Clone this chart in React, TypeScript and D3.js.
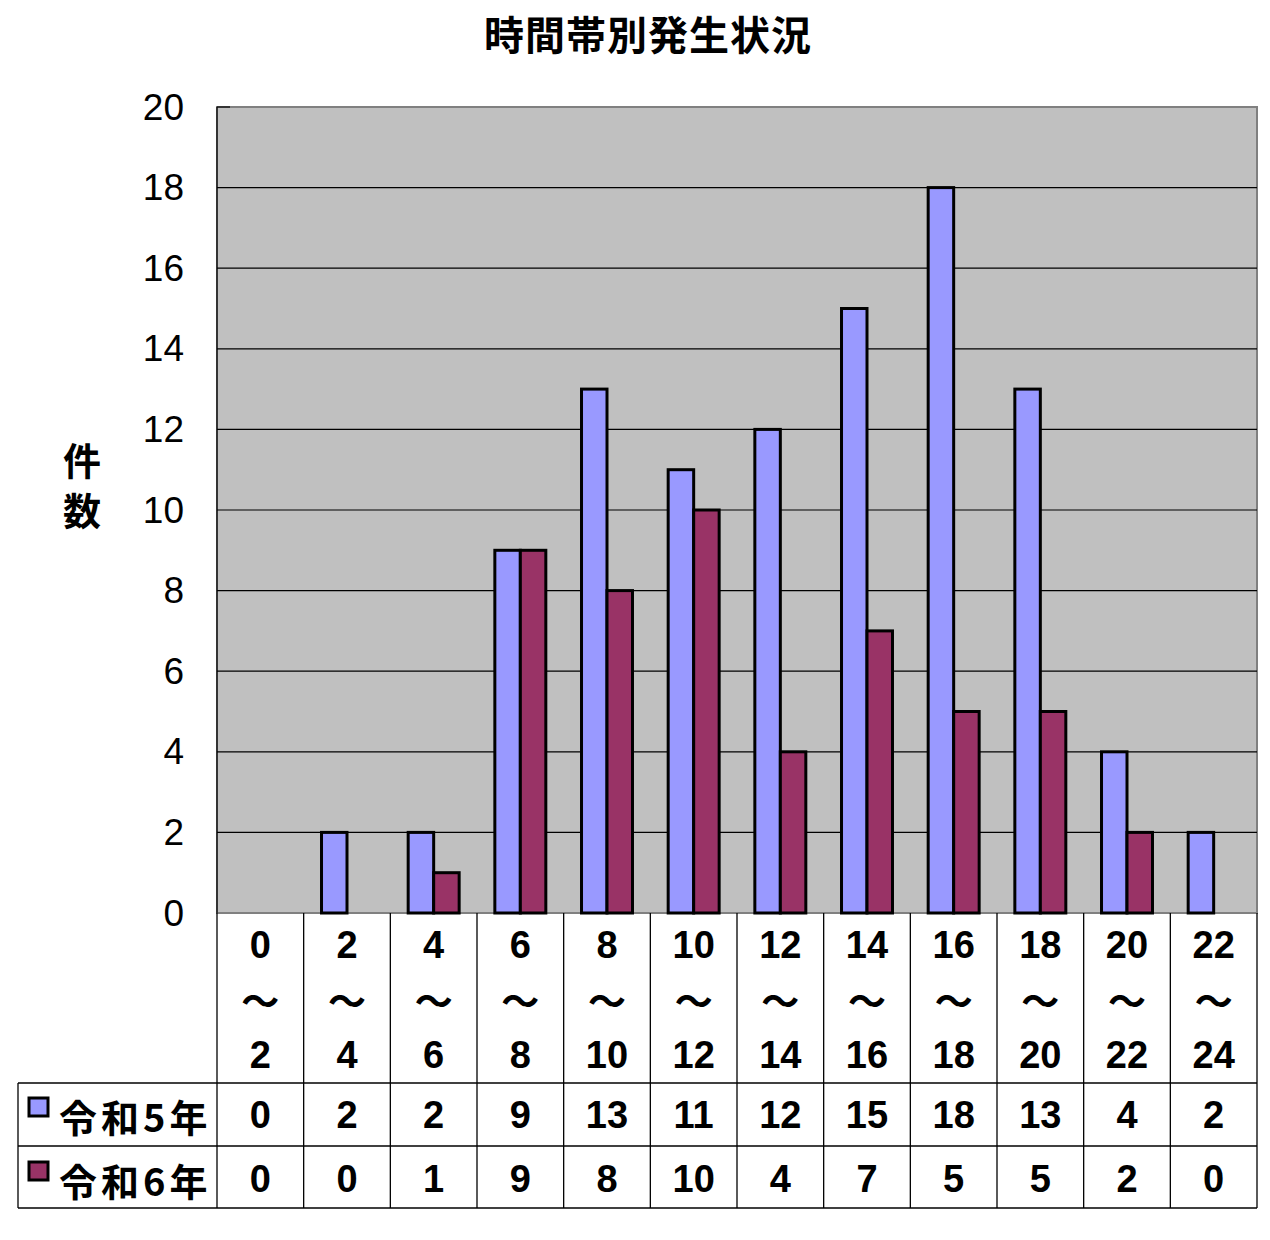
import React, { useEffect, useRef } from 'react';
import * as d3 from 'd3';

const categories = ['0', '2', '4', '6', '8', '10', '12', '14', '16', '18', '20', '22'];
const categoryEnds = ['2', '4', '6', '8', '10', '12', '14', '16', '18', '20', '22', '24'];
const seriesNames = ['令和5年', '令和6年'];
const r5Values = [0, 2, 2, 9, 13, 11, 12, 15, 18, 13, 4, 2];
const r6Values = [0, 0, 1, 9, 8, 10, 4, 7, 5, 5, 2, 0];
const yTicks = [0, 2, 4, 6, 8, 10, 12, 14, 16, 18, 20];
const colors = ['#9999FF', '#993366'];

const App = () => {
  const svg = useRef(null);
  const width = 1270;
  const height = 1240;
  const plot = { left: 217, right: 1257, top: 107, bottom: 913 };
  const table = { left: 18, headerBottom: 1083, row1Bottom: 1146, row2Bottom: 1208 };
  const latin = '"Liberation Sans", Arial, "Noto Sans CJK JP", sans-serif';

  const renderChart = (root: any) => {
    root.selectAll('*').remove();

    const xscale = d3.scaleBand().domain(categories).range([plot.left, plot.right]);
    const inner = d3
      .scaleBand()
      .domain(seriesNames)
      .range([0, xscale.bandwidth()])
      .paddingInner(0)
      .paddingOuter(0.7);
    const yscale = d3.scaleLinear().domain([0, 20]).range([plot.bottom, plot.top]);

    // title
    root
      .append('text')
      .attr('x', 648)
      .attr('y', 33)
      .attr('text-anchor', 'middle')
      .attr('dominant-baseline', 'central')
      .attr('font-family', '"Noto Sans CJK JP", sans-serif')
      .attr('font-weight', 'bold')
      .attr('font-size', 40)
      .attr('letter-spacing', 1)
      .text('時間帯別発生状況');

    // plot background
    root
      .append('rect')
      .attr('x', plot.left)
      .attr('y', plot.top)
      .attr('width', plot.right - plot.left)
      .attr('height', plot.bottom - plot.top)
      .attr('fill', '#C0C0C0')
      .attr('stroke', '#808080')
      .attr('stroke-width', 2);

    // gridlines
    root
      .append('g')
      .selectAll('line')
      .data(yTicks.filter(t => t > 0 && t < 20))
      .enter()
      .append('line')
      .attr('x1', plot.left)
      .attr('x2', plot.right)
      .attr('y1', (d: number) => yscale(d))
      .attr('y2', (d: number) => yscale(d))
      .attr('stroke', '#000')
      .attr('stroke-width', 1.2);

    // left axis line and top tick
    root
      .append('line')
      .attr('x1', plot.left)
      .attr('x2', plot.left)
      .attr('y1', plot.top)
      .attr('y2', plot.bottom)
      .attr('stroke', '#000')
      .attr('stroke-width', 1.2);
    root
      .append('line')
      .attr('x1', plot.left)
      .attr('x2', plot.left + 13)
      .attr('y1', yscale(20))
      .attr('y2', yscale(20))
      .attr('stroke', '#000')
      .attr('stroke-width', 1.2);

    // y tick labels
    root
      .append('g')
      .selectAll('text')
      .data(yTicks)
      .enter()
      .append('text')
      .attr('x', 184)
      .attr('y', (d: number) => yscale(d))
      .attr('text-anchor', 'end')
      .attr('dominant-baseline', 'central')
      .attr('font-family', latin)
      .attr('font-size', 37)
      .text((d: number) => d);

    // y axis title (vertical, one char per line)
    const yTitle = root
      .append('text')
      .attr('text-anchor', 'middle')
      .attr('font-family', '"Noto Sans CJK JP", sans-serif')
      .attr('font-weight', 'bold')
      .attr('font-size', 38);
    ['件', '数'].forEach((ch, i) => {
      yTitle
        .append('tspan')
        .attr('x', 82)
        .attr('y', 475 + i * 50)
        .text(ch);
    });

    // bars
    const seriesValues = [r5Values, r6Values];
    seriesValues.forEach((vals, si) => {
      root
        .append('g')
        .selectAll('rect')
        .data(vals.map((v, i) => ({ cat: categories[i], v })).filter(d => d.v > 0))
        .enter()
        .append('rect')
        .attr('x', (d: any) => (xscale(d.cat) as number) + (inner(seriesNames[si]) as number))
        .attr('width', inner.bandwidth())
        .attr('y', (d: any) => yscale(d.v))
        .attr('height', (d: any) => plot.bottom - yscale(d.v))
        .attr('fill', colors[si])
        .attr('stroke', '#000')
        .attr('stroke-width', 3);
    });

    // data table lines
    const tl = root.append('g').attr('stroke', '#000').attr('stroke-width', 1.3);
    const bounds = categories.map(c => xscale(c) as number).concat([plot.right]);
    tl.selectAll('.v')
      .data(bounds)
      .enter()
      .append('line')
      .attr('x1', (d: number) => d)
      .attr('x2', (d: number) => d)
      .attr('y1', plot.bottom)
      .attr('y2', table.row2Bottom);
    tl.append('line')
      .attr('x1', table.left)
      .attr('x2', table.left)
      .attr('y1', table.headerBottom)
      .attr('y2', table.row2Bottom);
    [table.headerBottom, table.row1Bottom, table.row2Bottom].forEach(y => {
      tl.append('line')
        .attr('x1', table.left)
        .attr('x2', plot.right)
        .attr('y1', y)
        .attr('y2', y);
    });

    // header labels
    const cx = (i: number) => (xscale(categories[i]) as number) + xscale.bandwidth() / 2;
    const header = root
      .append('g')
      .attr('font-family', latin)
      .attr('font-weight', 'bold')
      .attr('font-size', 38)
      .attr('text-anchor', 'middle');
    categories.forEach((c, i) => {
      header.append('text').attr('x', cx(i)).attr('y', 958).text(c);
      header
        .append('text')
        .attr('x', cx(i))
        .attr('y', 998)
        .attr('dominant-baseline', 'central')
        .attr('font-family', '"Noto Sans CJK JP", sans-serif')
        .text('～');
      header.append('text').attr('x', cx(i)).attr('y', 1068).text(categoryEnds[i]);
    });

    // table values
    const rowBase = [1128, 1192];
    seriesValues.forEach((vals, si) => {
      header
        .append('g')
        .selectAll('text')
        .data(vals)
        .enter()
        .append('text')
        .attr('x', (_d: number, i: number) => cx(i))
        .attr('y', rowBase[si])
        .text((d: number) => d);

      // legend key
      root
        .append('rect')
        .attr('x', 29)
        .attr('y', rowBase[si] - 30)
        .attr('width', 19)
        .attr('height', 18)
        .attr('fill', colors[si])
        .attr('stroke', '#000')
        .attr('stroke-width', 3);
      root
        .append('text')
        .attr('x', 59)
        .attr('y', rowBase[si] - 13)
        .attr('dominant-baseline', 'central')
        .attr('font-family', '"Noto Sans CJK JP", sans-serif')
        .attr('font-weight', 'bold')
        .attr('font-size', 38)
        .attr('letter-spacing', 4)
        .text(seriesNames[si]);
    });
  };

  useEffect(() => {
    renderChart(d3.select(svg.current));
  }, []);

  return (
    <svg
      ref={svg}
      width={width}
      height={height}
      style={{ position: 'absolute', left: 0, top: 0, background: '#fff' }}
    />
  );
};

export default App;
